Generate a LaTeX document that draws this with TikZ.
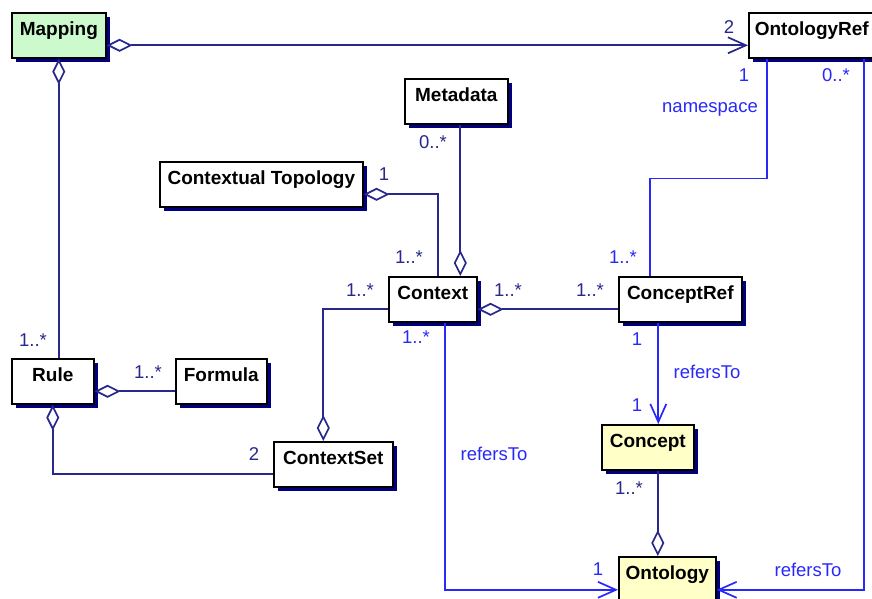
\documentclass[tikz,border=0pt]{standalone}
\usepackage{fontspec}
\setmainfont{Liberation Sans}
\usetikzlibrary{arrows.meta, shadows}

\definecolor{umlnavy}{RGB}{40,40,140}
\definecolor{umlblue}{RGB}{40,40,250}
\definecolor{umlshadow}{RGB}{0,0,128}
\definecolor{umlgreen}{RGB}{205,250,205}
\definecolor{umlyellow}{RGB}{255,255,200}

\begin{document}
\begin{tikzpicture}[x=1pt,y=-1pt,
		cls/.style={draw=black,line width=1.6pt,fill=white,anchor=north west,minimum height=45pt,inner sep=0pt,text height=23pt,text depth=22pt,font=\fontsize{19}{22}\selectfont\bfseries,general shadow={fill=umlshadow,shadow xshift=4pt,shadow yshift=-4pt}},
		nlab/.style={inner sep=0pt,text=umlnavy,font=\fontsize{18.5}{22}\selectfont},
		blab/.style={nlab,text=umlblue},
		agg/.style={draw=umlnavy,line width=1.7pt,-{Diamond[open,length=26pt,width=13pt]}},
		aggnav/.style={draw=umlnavy,line width=1.7pt,{Diamond[open,length=26pt,width=13pt]}-{Straight Barb[length=18pt,width=16pt]}},
		nav/.style={draw=umlblue,line width=1.7pt,-{Straight Barb[length=18pt,width=16pt]}},
		assoc/.style={draw=umlblue,line width=1.7pt}]
	\useasboundingbox (0,0) rectangle (872,598);

	\node[cls,fill=umlgreen,minimum width=94pt] (map) at (11,12) {Mapping};
	\node[cls,minimum width=126pt] (oref) at (748,12) {OntologyRef};
	\node[cls,minimum width=103pt] (meta) at (404,78) {Metadata};
	\node[cls,minimum width=203pt] (topo) at (159,161) {Contextual Topology};
	\node[cls,minimum width=88pt] (ctx) at (388,276) {Context};
	\node[cls,minimum width=123pt] (cref) at (618,276) {ConceptRef};
	\node[cls,minimum width=82pt] (rule) at (11,358) {Rule};
	\node[cls,minimum width=91pt] (form) at (175,358) {Formula};
	\node[cls,minimum width=119pt] (cset) at (273,441) {ContextSet};
	\node[cls,fill=umlyellow,minimum width=92pt] (conc) at (601,424) {Concept};
	\node[cls,fill=umlyellow,minimum width=97pt,text depth=27pt] (onto) at (618,556) {Ontology};

	\draw[aggnav] ([yshift=-10pt]map.east) -- ([yshift=-10pt]map.east -| oref.west);
	\draw[agg] (map.south |- rule.north) -- (map.south);
	\draw[agg] ([yshift=-10pt]form.west) -- ([yshift=-10pt]rule.east);
	\draw[agg] ([yshift=-10pt]cset.west) -| (rule.south);
	\draw[agg] ([xshift=5pt]ctx.north) |- ([yshift=-10pt]topo.east);
	\draw[agg] ([xshift=4pt]meta.south) -- ([xshift=4pt]meta.south |- ctx.north);
	\draw[agg] ([yshift=-10pt]ctx.west) -| ([xshift=-10pt]cset.north);
	\draw[agg] ([yshift=-10pt]cref.west) -- ([yshift=-10pt]ctx.east);
	\draw[agg] ([xshift=10pt]conc.south) -- ([xshift=10pt]conc.south |- onto.north);
	\draw[assoc] ([xshift=-45pt]oref.south) -- ++(0,120) -| ([xshift=-30pt]cref.north);
	\draw[nav] ([xshift=-22pt]cref.south) -- ([xshift=-22pt]cref.south |- conc.north);
	\draw[nav] ([xshift=12pt]ctx.south) |- ([yshift=-8pt]onto.west);
	\draw[nav] ([xshift=52pt]oref.south) |- ([yshift=-8pt]onto.east);

	\node[nlab] (m1) at (729,27) {2};
	\node[nlab] (m2) at (33,340) {1..*};
	\node[nlab] (m3) at (148,372) {1..*};
	\node[nlab] (m4) at (254,454) {2};
	\node[nlab] (m5) at (384,174) {1};
	\node[nlab] (m6) at (409,257) {1..*};
	\node[nlab] (m7) at (433,142) {0..*};
	\node[nlab] (m8) at (360,290) {1..*};
	\node[nlab] (m9) at (508,290) {1..*};
	\node[nlab] (m10) at (590,290) {1..*};
	\node[nlab] (m11) at (629,488) {1..*};
	\node[blab] (m12) at (416,337) {1..*};
	\node[blab] (m13) at (623,257) {1..*};
	\node[blab] (m14) at (744,75) {1};
	\node[blab] (m15) at (836,75) {0..*};
	\node[blab] (m16) at (637,339) {1};
	\node[blab] (m17) at (637,405) {1};
	\node[blab] (m18) at (598,569) {1};
	\node[blab] (ns) at (710,109) {namespace};
	\node[blab] (rt1) at (707,372) {refersTo};
	\node[blab] (rt2) at (494,454) {refersTo};
	\node[blab] (rt3) at (808,570) {refersTo};
\end{tikzpicture}
\end{document}
